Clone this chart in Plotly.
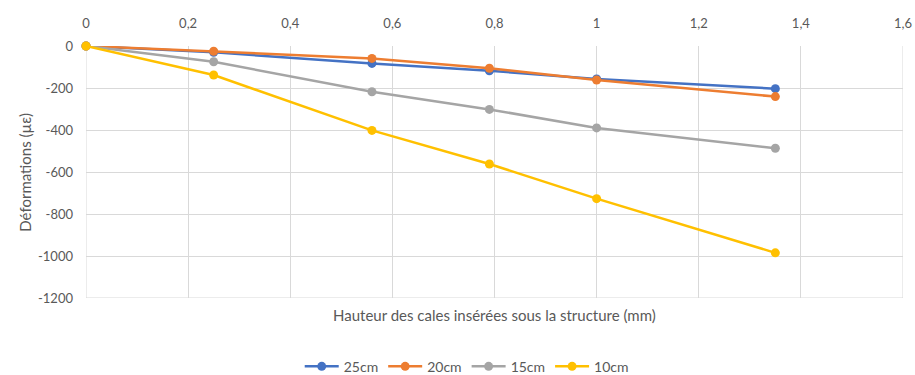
import plotly.graph_objects as go

# Shim heights (mm) and measured strains (µε) per distance
heights = [0, 0.25, 0.56, 0.79, 1.0, 1.35]
strain_25cm = [0, -30, -83, -118, -157, -203]
strain_20cm = [0, -25, -59, -106, -162, -241]
strain_15cm = [0, -75, -218, -302, -390, -487]
strain_10cm = [0, -138, -402, -562, -727, -985]

series_names = ["25cm", "20cm", "15cm", "10cm"]
series_values = [strain_25cm, strain_20cm, strain_15cm, strain_10cm]
series_colors = ["#4472C4", "#ED7D31", "#A5A5A5", "#FFC000"]

y_ticks = [0, -200, -400, -600, -800, -1000, -1200]
y_tick_labels = ["0", "-200", "-400", "-600", "-800", "-1000", "-1200"]

font_family = "Lato, 'Open Sans', sans-serif"
text_color = "#595959"
grid_color = "#D9D9D9"

fig = go.Figure()
for name, vals, col in zip(series_names, series_values, series_colors):
    fig.add_trace(go.Scatter(
        x=heights, y=vals, name=name, mode="lines+markers",
        line=dict(color=col, width=2.5),
        marker=dict(color=col, size=9),
        cliponaxis=False,
    ))

fig.update_layout(
    width=915, height=375,
    margin=dict(l=86, r=12, t=46, b=77, autoexpand=False),
    paper_bgcolor="white", plot_bgcolor="white",
    separators=", ",
    font=dict(family=font_family, size=13, color=text_color),
    showlegend=True,
    legend=dict(
        orientation="h", x=0.466, xanchor="center",
        yref="container", y=0.022, yanchor="middle",
        font=dict(size=14, color=text_color), itemwidth=34,
        tracegroupgap=0,
    ),
    xaxis=dict(
        side="top", range=[0, 1.6], dtick=0.2, tick0=0,
        showgrid=True, gridcolor=grid_color, gridwidth=1,
        zeroline=False, showline=False, ticks="",
        ticklabelstandoff=14, automargin=False,
        tickfont=dict(size=13, color=text_color),
    ),
    yaxis=dict(
        range=[-1200, 0], tickvals=y_ticks, ticktext=y_tick_labels,
        showgrid=True, gridcolor=grid_color, gridwidth=1,
        zeroline=False, showline=False, ticks="",
        ticklabelstandoff=12, automargin=False,
        tickfont=dict(size=13, color=text_color),
    ),
    shapes=[
        dict(type="line", xref="x", yref="paper", x0=0, x1=0, y0=0, y1=1,
             line=dict(color=grid_color, width=1), layer="below"),
        dict(type="line", xref="x", yref="paper", x0=1.6, x1=1.6, y0=0, y1=1,
             line=dict(color=grid_color, width=1), layer="below"),
        dict(type="line", xref="paper", yref="y", x0=0, x1=1, y0=-1200, y1=-1200,
             line=dict(color=grid_color, width=1), layer="below"),
    ],
    annotations=[
        dict(text="Hauteur des cales insérées sous la structure (mm)",
             xref="paper", yref="paper", x=0.5, y=-0.025, xanchor="center",
             yanchor="top", showarrow=False,
             font=dict(size=15, color=text_color)),
        dict(text="Déformations (µε)", textangle=-90,
             xref="paper", yref="paper", x=-0.075, y=0.5, xanchor="center",
             yanchor="middle", showarrow=False,
             font=dict(size=15, color=text_color)),
    ],
)

fig.write_html("out.html")
